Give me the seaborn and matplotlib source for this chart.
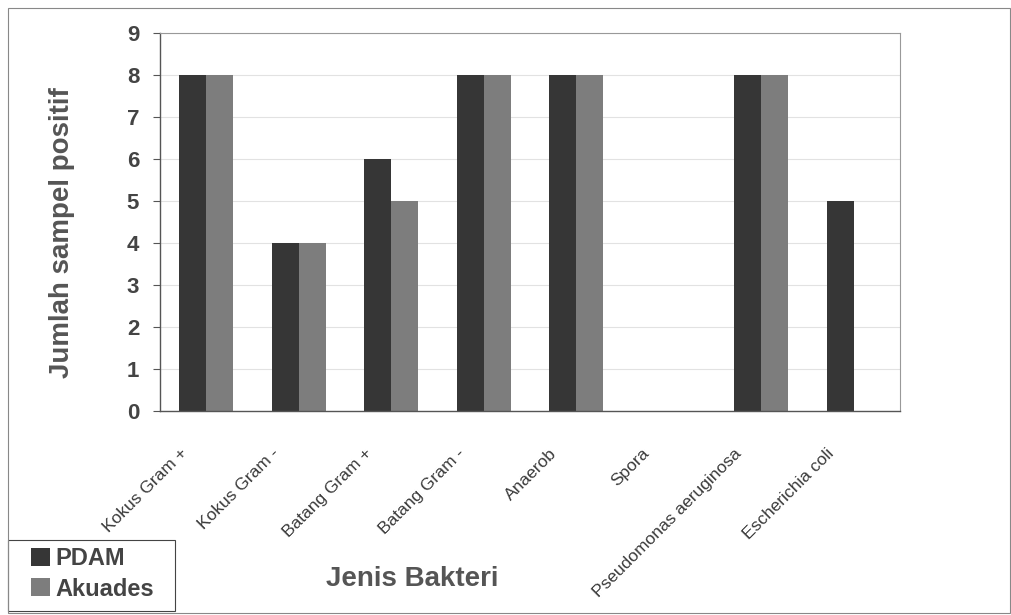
import matplotlib
matplotlib.use("Agg")
import matplotlib.pyplot as plt
import seaborn as sns
import pandas as pd
from matplotlib.patches import Rectangle
from matplotlib.transforms import ScaledTranslation

categories = ["Kokus Gram +", "Kokus Gram -", "Batang Gram +", "Batang Gram -",
              "Anaerob", "Spora", "Pseudomonas aeruginosa", "Escherichia coli"]
pdam = [8, 4, 6, 8, 8, 0, 8, 5]
akuades = [8, 4, 5, 8, 8, 0, 8, 0]
series = ["PDAM", "Akuades"]
colors = ["#363636", "#7d7d7d"]

df = pd.DataFrame({
    "Jenis": categories * 2,
    "Nilai": pdam + akuades,
    "Seri": [series[0]] * len(categories) + [series[1]] * len(categories),
})

sns.set_style("white")
plt.rcParams["font.family"] = ["Liberation Sans", "DejaVu Sans"]

W, H = 1012, 615
fig = plt.figure(figsize=(W / 100, H / 100), dpi=100)
L, R, T, B = 160, 900, 33, 411
ax = fig.add_axes([L / W, 1 - B / H, (R - L) / W, (B - T) / H])

sns.barplot(data=df, x="Jenis", y="Nilai", hue="Seri", palette=colors,
            width=0.58, ax=ax, legend=False, saturation=1, edgecolor="none")

ax.set_xlim(-0.5, len(categories) - 0.5)
ax.set_ylim(0, 9)
ax.set_yticks(range(0, 10))
ax.set_yticklabels([str(v) for v in range(10)], fontsize=16, fontweight="bold", color="#444444")
ax.yaxis.grid(True, color="#e2e2e2", linewidth=0.8)
ax.set_axisbelow(True)

ax.set_xticks(range(len(categories)))
ax.set_xticklabels(categories, rotation=45, ha="right", rotation_mode="anchor",
                   fontsize=12.5, color="#3a3a3a")
ax.set_xticks([i - 0.5 for i in range(len(categories) + 1)], minor=True)
ax.tick_params(axis="x", which="major", length=0, pad=25)
ax.tick_params(axis="x", which="minor", length=5, width=0.8, color="#555555", direction="out")
ax.tick_params(axis="y", which="major", length=5, width=0.8, color="#555555",
               direction="out", left=True, pad=10)
shift = ScaledTranslation(-0.27, 0, fig.dpi_scale_trans)
for lab in ax.get_xticklabels():
    lab.set_transform(lab.get_transform() + shift)

for side in ["left", "bottom"]:
    ax.spines[side].set_color("#555555")
    ax.spines[side].set_linewidth(1.0)
ax.spines["right"].set_color("#999999")
ax.spines["right"].set_linewidth(0.8)
ax.spines["top"].set_color("#999999")
ax.spines["top"].set_linewidth(0.8)
ax.spines["top"].set_linestyle((0, (1, 1)))

ax.set_xlabel("")
ax.set_ylabel("")
fig.text(62 / W, 1 - 233 / H, "Jumlah sampel positif", rotation=90, fontsize=20,
         fontweight="bold", color="#555555", ha="center", va="center")
fig.text(412 / W, 1 - 579 / H, "Jenis Bakteri", fontsize=20, fontweight="bold",
         color="#555555", ha="center", va="center")

# legend frame drawn in figure coordinates, legend content placed inside it
fig.patches.append(Rectangle((8 / W, 1 - 611 / H), 167 / W, 71 / H,
                             transform=fig.transFigure, fill=False,
                             edgecolor="#444444", linewidth=0.8))
handles = [Rectangle((0, 0), 1, 1, facecolor=c, edgecolor="none") for c in colors]
leg = fig.legend(handles, series, loc="center left",
                 bbox_to_anchor=(31 / W, 1 - 574 / H), frameon=False, borderaxespad=0,
                 handlelength=0.8, handleheight=0.8, handletextpad=0.25,
                 borderpad=0, labelspacing=0.3, prop={"weight": "bold", "size": 17})
for t in leg.get_texts():
    t.set_color("#444444")

fig.patches.append(Rectangle((8 / W, 1 - 613 / H), 1002 / W, 605 / H,
                             transform=fig.transFigure, fill=False,
                             edgecolor="#888888", linewidth=0.8))

fig.savefig("out.png", dpi=100)
